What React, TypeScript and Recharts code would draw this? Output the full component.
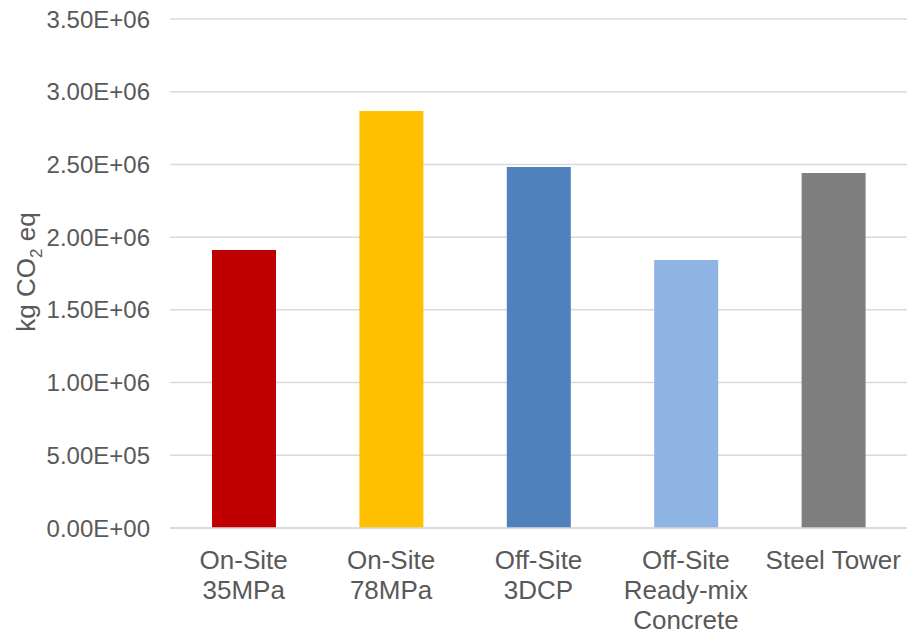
import React from "react";
import { BarChart, Bar, XAxis, YAxis, CartesianGrid, Cell, ReferenceLine } from "recharts";

const categories = ["On-Site\n35MPa", "On-Site\n78MPa", "Off-Site\n3DCP", "Off-Site\nReady-mix\nConcrete", "Steel Tower"];
const emissions = [1912000, 2868000, 2483000, 1843000, 2441000];
const barColors = ["#C00000", "#FFC000", "#4F81BD", "#8EB4E3", "#7F7F7F"];
const yTicks = [0, 500000, 1000000, 1500000, 2000000, 2500000, 3000000, 3500000];

const data = categories.map((name, i) => ({ name, value: emissions[i] }));

const textColor = "#595959";
const font = "'Liberation Sans', Arial, sans-serif";

const fmtSci = (v: number) => {
  if (v === 0) return "0.00E+00";
  const exp = Math.floor(Math.log10(v));
  const mant = v / Math.pow(10, exp);
  return `${mant.toFixed(2)}E+${String(exp).padStart(2, "0")}`;
};

const CategoryTick = (props: any) => {
  const { x, y, payload } = props;
  const lines = String(payload.value).split("\n");
  return (
    <text x={x} y={y} textAnchor="middle" fill={textColor} fontSize={26} fontFamily={font}>
      {lines.map((ln, i) => (
        <tspan key={i} x={x} dy={i === 0 ? 33 : 30}>{ln}</tspan>
      ))}
    </text>
  );
};

const YLabel = () => (
  <text
    transform="translate(35, 272) rotate(-90)"
    textAnchor="middle"
    fill={textColor}
    fontSize={26}
    fontFamily={font}
  >
    kg CO<tspan fontSize={17} dy={7}>2</tspan><tspan dy={-7}> eq</tspan>
  </text>
);

export default function App() {
  return (
    <div style={{ position: "absolute", left: 0, top: 0, background: "#fff" }}>
      <BarChart
        width={907}
        height={636}
        data={data}
        margin={{ top: 19, right: 0, left: 0, bottom: 0 }}
        barSize={64}
      >
        <CartesianGrid vertical={false} stroke="#D9D9D9" strokeWidth={1.5} />
        <XAxis
          dataKey="name"
          height={108}
          axisLine={false}
          tickLine={false}
          interval={0}
          tick={<CategoryTick />}
        />
        <YAxis
          width={170}
          domain={[0, 3500000]}
          ticks={yTicks}
          tickFormatter={fmtSci}
          axisLine={false}
          tickLine={false}
          tickSize={0}
          tickMargin={20}
          tick={{ fill: textColor, fontSize: 24, fontFamily: font }}
          label={<YLabel />}
        />
        <Bar dataKey="value" isAnimationActive={false}>
          {data.map((d, i) => (
            <Cell key={d.name} fill={barColors[i]} />
          ))}
        </Bar>
        <ReferenceLine y={0} stroke="#D9D9D9" strokeWidth={1.5} />
      </BarChart>
    </div>
  );
}
